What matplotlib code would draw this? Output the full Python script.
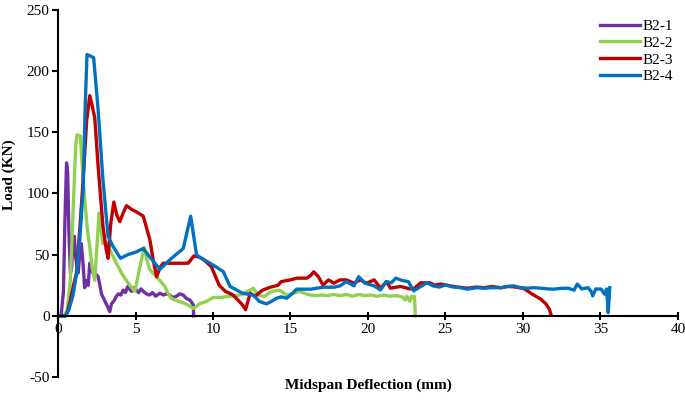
import numpy as np
import matplotlib
matplotlib.use("Agg")
import matplotlib.pyplot as plt

plt.rcParams['font.family'] = ['Liberation Serif', 'DejaVu Serif']
plt.rcParams['axes.unicode_minus'] = False

# Load-deflection readings (mm, kN)
b2_1 = [(0, 0), (0.2, 0), (0.35, 20), (0.45, 80), (0.55, 125), (0.62, 118), (0.7, 70),
        (0.8, 35), (0.88, 40), (0.95, 60), (1.05, 65), (1.12, 50), (1.2, 42), (1.3, 35),
        (1.4, 50), (1.5, 59), (1.6, 45), (1.72, 23), (1.8, 27), (1.87, 29), (1.95, 25),
        (2.05, 43), (2.15, 38), (2.26, 35), (2.35, 33), (2.45, 34), (2.59, 32), (2.7, 25),
        (2.8, 18), (2.95, 14), (3.1, 10), (3.25, 6), (3.34, 3.5), (3.45, 10), (3.6, 12),
        (3.77, 16), (3.9, 18), (4.05, 17), (4.2, 21), (4.35, 19), (4.5, 24), (4.62, 22),
        (4.74, 20), (4.9, 23), (5.06, 21), (5.2, 19), (5.35, 22), (5.5, 20), (5.7, 18),
        (5.9, 17), (6.1, 19), (6.3, 16), (6.57, 18.5), (6.8, 17), (7.0, 18), (7.2, 17),
        (7.4, 15), (7.65, 16), (7.85, 18), (8.08, 17), (8.3, 14), (8.5, 13), (8.62, 11),
        (8.73, 9), (8.75, 0)]

b2_2 = [(0, 0), (0.4, 0), (0.6, 5), (0.8, 30), (1.0, 95), (1.15, 140), (1.23, 148),
        (1.44, 147), (1.6, 115), (1.72, 95), (1.9, 70), (2.05, 56), (2.2, 40), (2.37, 29),
        (2.5, 55), (2.65, 84), (2.78, 70), (2.9, 59), (3.1, 60), (3.25, 57), (3.45, 51),
        (3.77, 43), (4.1, 35), (4.4, 29), (4.7, 24), (4.96, 20), (5.25, 38), (5.56, 56),
        (5.75, 45), (5.93, 37.5), (6.36, 32), (6.9, 24), (7.1, 18), (7.33, 14), (7.76, 12),
        (8.2, 10), (8.5, 8), (8.73, 6), (8.95, 8), (9.16, 10), (9.4, 11), (9.6, 12),
        (10.0, 15), (10.5, 15), (10.86, 15.8), (11.3, 16), (11.7, 17), (12.0, 18),
        (12.2, 20), (12.4, 21), (12.6, 22.6), (12.9, 17), (13.3, 15.8), (13.55, 18),
        (13.8, 20), (14.3, 21), (14.75, 17), (15.2, 18.5), (15.6, 20), (16.0, 18),
        (16.3, 17), (16.7, 16.5), (17.0, 17), (17.4, 16.5), (17.8, 17.5), (18.2, 16.5),
        (18.6, 17.5), (19.0, 16), (19.4, 17.5), (19.8, 16.5), (20.2, 17), (20.6, 16),
        (21.0, 17), (21.4, 16), (21.8, 16.5), (22.2, 15.5), (22.4, 13), (22.5, 16),
        (22.7, 12), (22.8, 16), (22.95, 14), (23.0, 16), (23.05, 0)]

b2_3 = [(0, 0), (0.5, 0), (0.6, 3), (0.75, 10), (1.0, 25), (1.19, 35), (1.4, 70),
        (1.62, 111), (1.85, 160), (2.05, 180), (2.2, 172), (2.37, 162), (2.59, 122),
        (2.9, 73), (3.1, 55), (3.23, 47), (3.4, 75), (3.6, 93), (3.8, 82), (3.99, 77),
        (4.2, 84), (4.42, 90), (4.75, 87), (5.06, 85), (5.5, 81.5), (5.93, 62), (6.15, 45),
        (6.36, 32), (6.6, 40), (6.79, 43), (7.4, 43), (8.0, 43), (8.4, 43), (8.77, 49),
        (9.1, 48), (9.4, 46), (9.9, 40), (10.4, 25), (10.8, 20), (11.3, 17), (11.6, 13),
        (11.9, 9), (12.1, 5), (12.4, 18.5), (12.7, 16), (13.2, 21), (13.7, 23.4),
        (14.2, 25), (14.4, 28), (15.0, 29.4), (15.4, 30.8), (16.05, 30.8), (16.3, 33),
        (16.5, 36), (16.8, 32), (17.1, 25), (17.45, 29.4), (17.8, 26.7), (18.2, 29.4),
        (18.6, 29.4), (19.1, 26.7), (19.5, 29.4), (19.9, 26.7), (20.4, 29.4), (20.8, 22.6),
        (21.2, 28), (21.45, 22.6), (22.1, 24), (22.7, 22), (23.0, 22.6), (23.4, 27),
        (24.0, 27), (24.3, 25), (24.7, 26), (25.3, 24.5), (25.8, 23.5), (26.4, 22.6),
        (27.0, 23.5), (27.5, 23), (28.0, 24), (28.6, 23), (29.0, 24), (29.4, 23.7),
        (29.8, 23), (30.1, 22), (30.6, 17.7), (31.15, 13.6), (31.5, 9.5), (31.7, 5.4),
        (31.8, 1.4)]

b2_4 = [(0, 0), (0.5, 0), (0.7, 5), (0.97, 17), (1.2, 35), (1.4, 62), (1.62, 103),
        (1.75, 170), (1.87, 213.6), (2.3, 211), (2.59, 168), (2.9, 111), (3.23, 65),
        (3.56, 56.5), (4.03, 47), (4.5, 50), (5.0, 52), (5.5, 55), (5.93, 48), (6.25, 43),
        (6.57, 38), (6.9, 42), (7.2, 45.6), (7.6, 50), (8.08, 55), (8.56, 81.5),
        (8.94, 49.7), (9.4, 46), (9.8, 43), (10.2, 40), (10.67, 36), (11.1, 24),
        (11.9, 18.5), (12.6, 17), (13.0, 11.7), (13.45, 9.8), (13.8, 12), (14.1, 14.4),
        (14.4, 15.5), (14.75, 14.4), (15.1, 18), (15.4, 21.8), (16.3, 21.8), (17.1, 23.4),
        (17.8, 23.4), (18.2, 24.5), (18.6, 28), (19.1, 24.5), (19.4, 32), (19.8, 26.7),
        (20.4, 24.5), (20.8, 21.2), (21.2, 28), (21.5, 27), (21.8, 30.8), (22.2, 28.9),
        (22.6, 28), (22.95, 20.4), (23.4, 24), (23.8, 27), (24.2, 24.5), (24.6, 23.5),
        (25.0, 25.3), (25.5, 23.5), (26.0, 23), (26.4, 21.8), (27.0, 23), (27.5, 22.6),
        (28.0, 23), (28.6, 23), (29.0, 24), (29.4, 24.5), (29.8, 23), (30.3, 22.6),
        (30.7, 23), (31.15, 22.6), (31.6, 22), (32.0, 21.8), (32.5, 22.5), (32.9, 22.6),
        (33.3, 21), (33.5, 26), (33.8, 22), (34.2, 23), (34.4, 20), (34.5, 16.3),
        (34.7, 22), (35.05, 21.8), (35.26, 17.7), (35.4, 22), (35.5, 2.7), (35.6, 23)]

series = [("B2-1", b2_1, "#7030A0"), ("B2-2", b2_2, "#92D050"),
          ("B2-3", b2_3, "#C00000"), ("B2-4", b2_4, "#0070C0")]

x_ticks = np.arange(0, 41, 5)
y_ticks = np.arange(-50, 251, 50)

fig = plt.figure(figsize=(6.85, 4.0), dpi=100)
ax = fig.add_axes([0.0847, 0.0575, 0.905, 0.9175])

for name, pts, col in series:
    pts = np.array(pts)
    ax.plot(pts[:, 0], pts[:, 1], color=col, lw=2.4, label=name)

ax.set_xlim(0, 40)
ax.set_ylim(-50, 250)
ax.set_xticks(x_ticks)
ax.set_yticks(y_ticks)

ax.spines['top'].set_visible(False)
ax.spines['right'].set_visible(False)
ax.spines['bottom'].set_position(('data', 0))
ax.spines['bottom'].set_linewidth(1.5)
ax.spines['left'].set_linewidth(1.5)

ax.tick_params(axis='x', direction='inout', length=6, width=1.5, labelsize=11, pad=2)
ax.tick_params(axis='y', direction='out', length=4, width=1.5, labelsize=11, pad=2)

ax.set_xlabel("Midspan Deflection (mm)", fontsize=11, fontweight='bold')
ax.xaxis.set_label_coords(0.5, -0.005)
ax.set_ylabel("Load (KN)", fontsize=11, fontweight='bold')
ax.yaxis.set_label_coords(-0.068, 0.55)

ax.legend(loc='upper left', bbox_to_anchor=(0.852, 1.012), frameon=False,
          fontsize=11, handlelength=2.6, labelspacing=0.2, handletextpad=0.2)

fig.savefig("out.png", dpi=100)
